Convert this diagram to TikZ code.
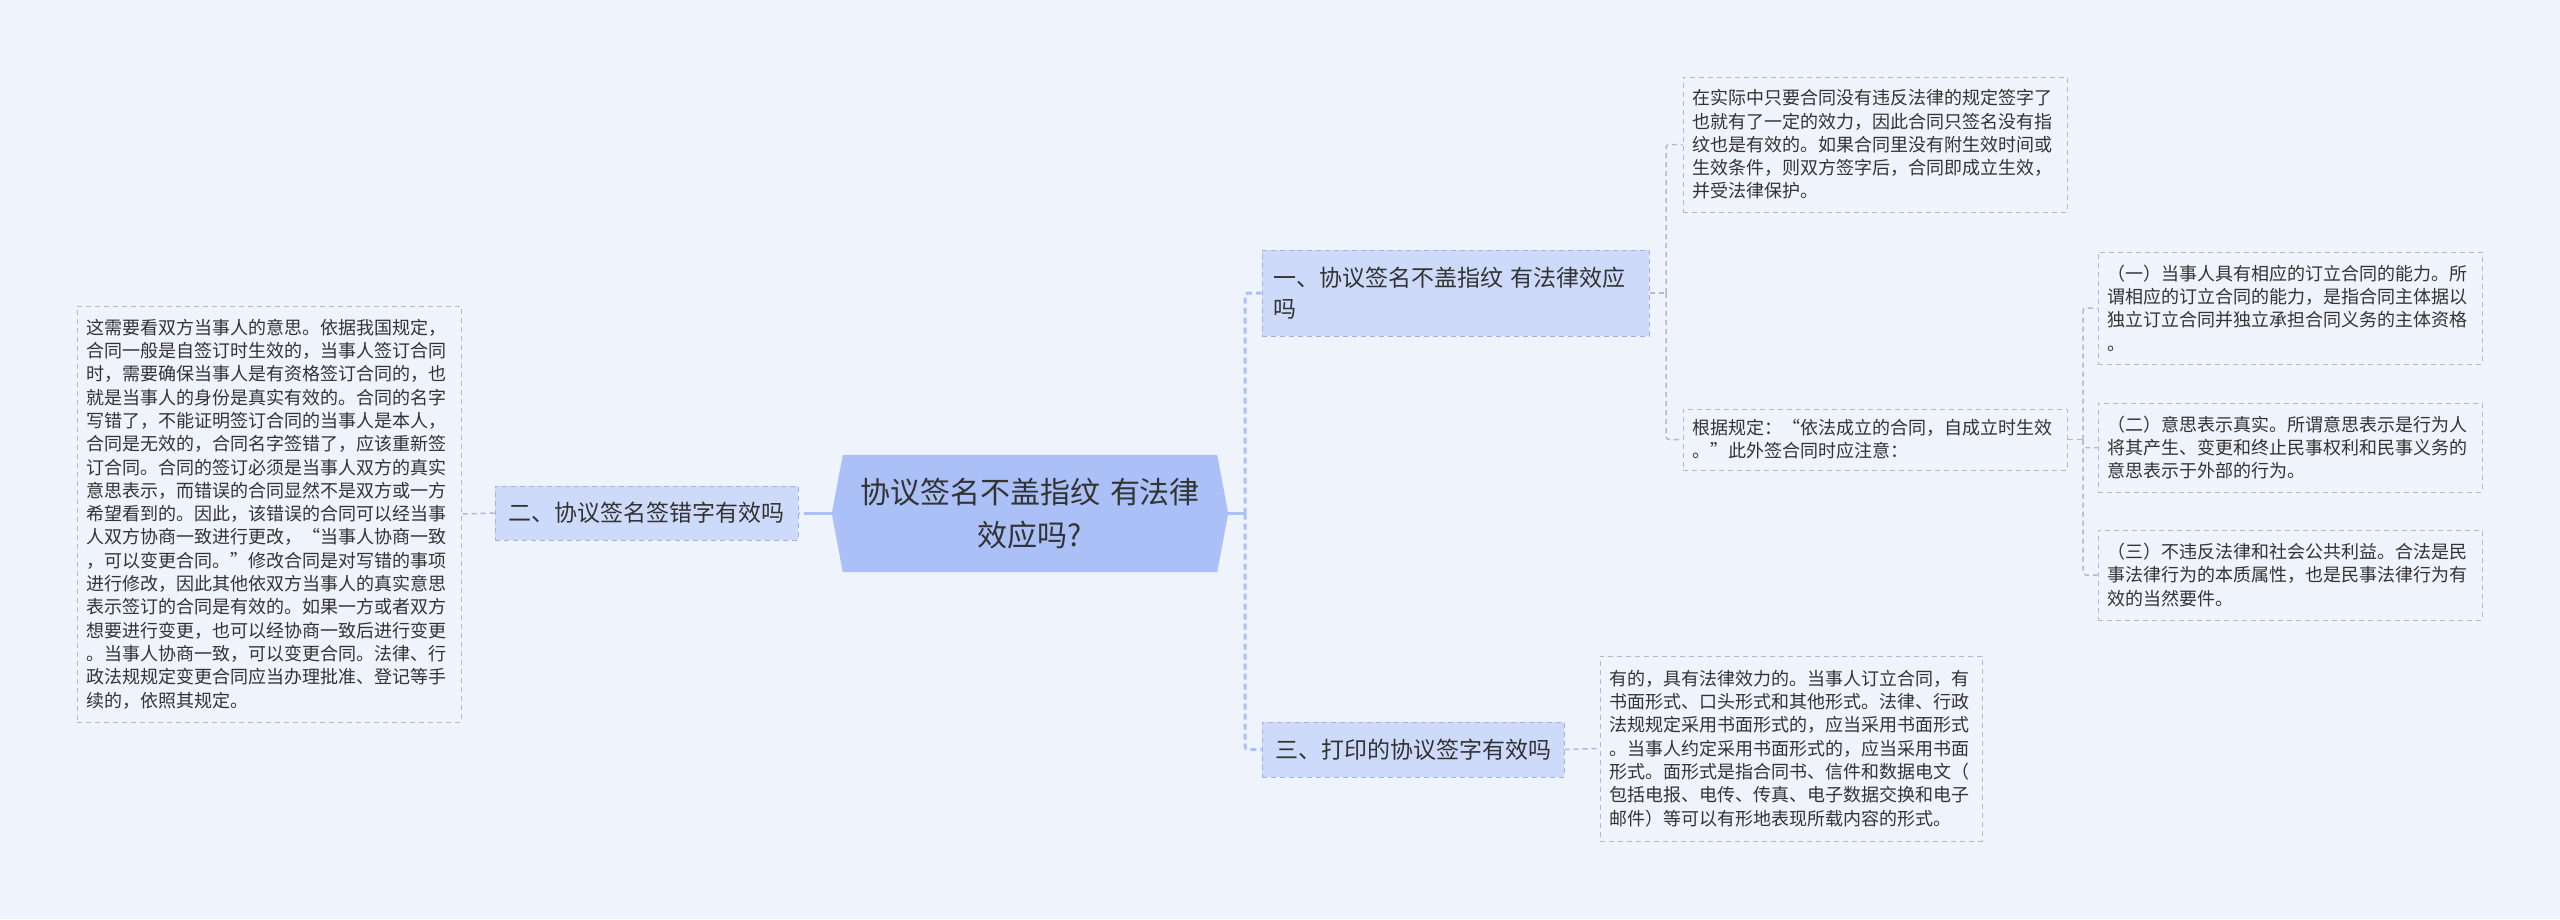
\documentclass[tikz,border=0pt]{standalone}
\usepackage{fontspec}
\setmainfont{Noto Sans CJK SC}
\usetikzlibrary{backgrounds}
\definecolor{bgcol}{RGB}{239,243,251}
\definecolor{rootfill}{RGB}{170,192,246}
\definecolor{branchfill}{RGB}{205,218,249}
\definecolor{branchborder}{RGB}{160,180,228}
\definecolor{leafborder}{RGB}{172,186,218}
\definecolor{trunkcol}{RGB}{170,192,246}
\definecolor{textcol}{RGB}{51,51,51}
\tikzset{
  leafbox/.style={draw=leafborder, dash pattern=on 5pt off 4pt, line width=1pt, fill=bgcol,
    text width=366pt, inner xsep=9pt, inner ysep=0pt, align=left, text=textcol,
    font=\fontsize{18}{23.3}\selectfont},
  branchbox/.style={draw=branchborder, dash pattern=on 5pt off 4pt, line width=1pt, fill=branchfill,
    inner xsep=11pt, inner ysep=0pt, text=textcol, font=\fontsize{23}{31.7}\selectfont},
  rootbox/.style={inner sep=0pt, minimum width=396pt, minimum height=117pt, text width=380pt,
    align=center, text=textcol, font=\fontsize{30}{43}\selectfont},
  trunkline/.style={draw=trunkcol, line width=3pt},
  trunkdash/.style={draw=trunkcol, line width=3pt, dash pattern=on 6pt off 4pt, rounded corners=3pt},
  leafline/.style={draw=leafborder, line width=1.5pt, dash pattern=on 5pt off 4pt, rounded corners=3pt},
}
\begin{document}
\begin{tikzpicture}[x=1pt, y=-1pt]
\useasboundingbox (0,0) rectangle (2560,919);

% root
\node[rootbox] (c) at (1030,513.5) {协议签名不盖指纹 有法律\\效应吗?};

% branches
\node[branchbox, minimum width=387pt, minimum height=86pt, text width=365pt, align=left] (n1) at (1455.5,293) {一、协议签名不盖指纹 有法律效应\\吗};
\node[branchbox, minimum width=303pt, minimum height=54pt] (n2) at (646.5,513) {二、协议签名签错字有效吗};
\node[branchbox, minimum width=302pt, minimum height=55pt] (n3) at (1413,749.5) {三、打印的协议签字有效吗};

% leaves
\node[leafbox, minimum height=416pt] (L2) at (269,514) {这需要看双方当事人的意思。依据我国规定，\\
合同一般是自签订时生效的，当事人签订合同\\
时，需要确保当事人是有资格签订合同的，也\\
就是当事人的身份是真实有效的。合同的名字\\
写错了，不能证明签订合同的当事人是本人，\\
合同是无效的，合同名字签错了，应该重新签\\
订合同。合同的签订必须是当事人双方的真实\\
意思表示，而错误的合同显然不是双方或一方\\
希望看到的。因此，该错误的合同可以经当事\\
人双方协商一致进行更改，“当事人协商一致\\
，可以变更合同。”修改合同是对写错的事项\\
进行修改，因此其他依双方当事人的真实意思\\
表示签订的合同是有效的。如果一方或者双方\\
想要进行变更，也可以经协商一致后进行变更\\
。当事人协商一致，可以变更合同。法律、行\\
政法规规定变更合同应当办理批准、登记等手\\
续的，依照其规定。};

\node[leafbox, minimum height=135pt] (l1a) at (1875,144.5) {在实际中只要合同没有违反法律的规定签字了\\
也就有了一定的效力，因此合同只签名没有指\\
纹也是有效的。如果合同里没有附生效时间或\\
生效条件，则双方签字后，合同即成立生效，\\
并受法律保护。};

\node[leafbox, minimum height=61pt] (l1b) at (1875,439.5) {根据规定：“依法成立的合同，自成立时生效\\
。”此外签合同时应注意：};

\node[leafbox, minimum height=112pt] (la) at (2290,308) {（一）当事人具有相应的订立合同的能力。所\\
谓相应的订立合同的能力，是指合同主体据以\\
独立订立合同并独立承担合同义务的主体资格\\
。};

\node[leafbox, minimum height=89pt] (lb) at (2290,447.5) {（二）意思表示真实。所谓意思表示是行为人\\
将其产生、变更和终止民事权利和民事义务的\\
意思表示于外部的行为。};

\node[leafbox, minimum height=90pt] (lc) at (2290,575) {（三）不违反法律和社会公共利益。合法是民\\
事法律行为的本质属性，也是民事法律行为有\\
效的当然要件。};

\node[leafbox, text width=364pt, minimum height=185pt] (l3) at (1791,748.5) {有的，具有法律效力的。当事人订立合同，有\\
书面形式、口头形式和其他形式。法律、行政\\
法规规定采用书面形式的，应当采用书面形式\\
。当事人约定采用书面形式的，应当采用书面\\
形式。面形式是指合同书、信件和数据电文（\\
包括电报、电传、传真、电子数据交换和电子\\
邮件）等可以有形地表现所载内容的形式。};

% junction coordinates
\coordinate (j1) at (1245,513.5);
\coordinate (j2) at (810,513.5);
\coordinate (j3) at (1666,293);
\coordinate (j4) at (2083,439.5);

\begin{scope}[on background layer]
  \fill[bgcol] (0,0) rectangle (2560,919);
  \fill[rootfill] ([xshift=11pt]c.north west) -- ([xshift=-11pt]c.north east) -- (c.east)
     -- ([xshift=-11pt]c.south east) -- ([xshift=11pt]c.south west) -- (c.west) -- cycle;
\end{scope}

% root connectors
\draw[trunkline] (c.east) -- (j1);
\draw[trunkdash] (j1) |- (n1.west);
\draw[trunkdash] (j1) |- (n3.west);
\draw[trunkline] (c.west) -- (j2);
\draw[trunkdash] (j2) -- (n2.east);

% leaf connectors
\draw[leafline] (n2.west) -- (L2.east);
\draw[leafline] (n1.east) -- (j3);
\draw[leafline] (j3) |- (l1a.west);
\draw[leafline] (j3) |- (l1b.west);
\draw[leafline] (l1b.east) -- (j4);
\draw[leafline] (j4) |- (la.west);
\draw[leafline] (j4) |- (lb.west);
\draw[leafline] (j4) |- (lc.west);
\draw[leafline] (n3.east) -- (l3.west);
\end{tikzpicture}
\end{document}
